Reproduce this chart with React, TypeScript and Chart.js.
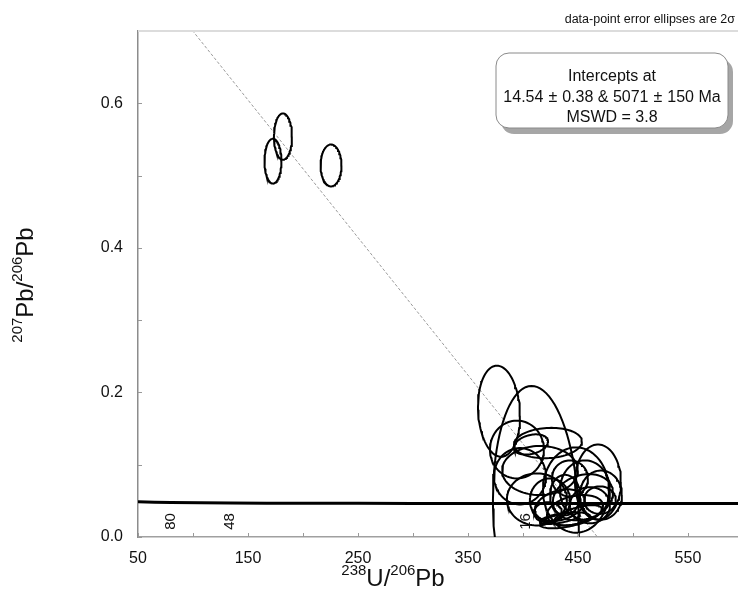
import React, { useEffect, useRef } from "react";
import { Chart, registerables } from "chart.js";

Chart.register(...registerables);

const FONT = "'Liberation Sans', Arial, sans-serif";

// Axis ranges and ticks
const X_MIN = 50;
const X_MAX = 595.5;
const Y_MIN = 0;
const Y_MAX = 0.7;
const xTickLabels = [50, 150, 250, 350, 450, 550];
const xMinorTicks = [100, 200, 300, 400, 500];
const yTickLabels = [0, 0.2, 0.4, 0.6];
const yMinorTicks = [0.1, 0.3, 0.5];

// Concordia curve (238U/206Pb vs 207Pb/206Pb)
const concordiaX = [50, 80, 134, 200, 300, 402, 500, 600];
const concordiaY = [0.0486, 0.0476, 0.047, 0.0467, 0.0465, 0.0464, 0.0463, 0.0462];
// Age markers (Ma) along concordia
const ageLabels = ["80", "48", "16"];
const ageX = [80, 133.8, 402.4];

// Discordia line endpoints
const discordiaX = [0, 467.7];
const discordiaY = [0.89, 0];

// Data-point error ellipses (centre, 2-sigma half-widths, correlation)
const ellX = [172.7, 181.8, 225.5, 378.2, 411.8, 394.5, 422.7, 407.3, 468.2, 448.2, 397.3, 412.7, 454.5, 470.9, 433.6, 447.3, 424.5, 460.9, 438.2, 450, 433.6, 422.7, 470, 442.7, 415.5, 456.4, 438.2];
const ellY = [0.52, 0.554, 0.514, 0.174, 0.034, 0.121, 0.13, 0.128, 0.076, 0.065, 0.084, 0.052, 0.055, 0.058, 0.044, 0.037, 0.051, 0.044, 0.058, 0.03, 0.026, 0.034, 0.051, 0.081, 0.092, 0.065, 0.023];
const ellSX = [7.7, 8.2, 9.5, 19.1, 39.1, 24.5, 30.9, 15.5, 20.9, 30, 23.6, 27.3, 27.3, 19.1, 22.7, 25.5, 18.2, 18.2, 13.6, 21.8, 18.2, 12.7, 14.5, 16.4, 34.5, 22.7, 22.7];
const ellSY = [0.031, 0.032, 0.029, 0.063, 0.175, 0.04, 0.021, 0.014, 0.052, 0.059, 0.039, 0.036, 0.032, 0.034, 0.022, 0.021, 0.03, 0.025, 0.028, 0.014, 0.008, 0.014, 0.019, 0.025, 0.034, 0.041, 0.011];
const ellRho = [0, 0, 0, -0.1, -0.1, 0, 0.1, 0.3, 0, 0, 0, 0, 0.2, 0, 0.3, 0.3, 0, 0, 0, 0.6, 0.6, 0, 0, 0, 0, 0, 0.5];

const boxLines = ["Intercepts at", "14.54±0.38 & 5071±150 Ma", "MSWD = 3.8"];
const noteText = "data-point error ellipses are 2σ";
const xTitleParts = [
  { t: "238", sup: true },
  { t: "U/", sup: false },
  { t: "206", sup: true },
  { t: "Pb", sup: false },
];
const yTitleParts = [
  { t: "207", sup: true },
  { t: "Pb/", sup: false },
  { t: "206", sup: true },
  { t: "Pb", sup: false },
];

function ellipseOutline(cx: number, cy: number, sx: number, sy: number, rho: number) {
  const pts: { x: number; y: number }[] = [];
  const n = 90;
  const s = Math.sqrt(1 - rho * rho);
  for (let k = 0; k <= n; k++) {
    const t = (2 * Math.PI * k) / n;
    pts.push({ x: cx + sx * Math.cos(t), y: cy + sy * (rho * Math.cos(t) + s * Math.sin(t)) });
  }
  return pts;
}

function drawSuperText(ctx: CanvasRenderingContext2D, parts: { t: string; sup: boolean }[], cx: number, baseline: number) {
  const mainF = `24px ${FONT}`;
  const supF = `15px ${FONT}`;
  let total = 0;
  const widths = parts.map((p) => {
    ctx.font = p.sup ? supF : mainF;
    const w = ctx.measureText(p.t).width;
    total += w;
    return w;
  });
  let x = cx - total / 2;
  ctx.textAlign = "left";
  ctx.textBaseline = "alphabetic";
  parts.forEach((p, i) => {
    ctx.font = p.sup ? supF : mainF;
    ctx.fillText(p.t, x, p.sup ? baseline - 11 : baseline);
    x += widths[i];
  });
}

function roundRectPath(ctx: CanvasRenderingContext2D, x: number, y: number, w: number, h: number, r: number) {
  ctx.beginPath();
  ctx.moveTo(x + r, y);
  ctx.lineTo(x + w - r, y);
  ctx.arcTo(x + w, y, x + w, y + r, r);
  ctx.lineTo(x + w, y + h - r);
  ctx.arcTo(x + w, y + h, x + w - r, y + h, r);
  ctx.lineTo(x + r, y + h);
  ctx.arcTo(x, y + h, x, y + h - r, r);
  ctx.lineTo(x, y + r);
  ctx.arcTo(x, y, x + r, y, r);
  ctx.closePath();
}

const decorPlugin = {
  id: "decor",
  afterDraw(chart: any) {
    const ctx: CanvasRenderingContext2D = chart.ctx;
    const xs = chart.scales.x;
    const ys = chart.scales.y;
    const area = chart.chartArea;
    ctx.save();

    // top border
    ctx.strokeStyle = "#dcdcdc";
    ctx.lineWidth = 2;
    ctx.beginPath();
    ctx.moveTo(area.left, area.top);
    ctx.lineTo(area.right, area.top);
    ctx.stroke();

    // inward ticks
    ctx.strokeStyle = "#999";
    ctx.lineWidth = 1;
    ctx.beginPath();
    [...yTickLabels, ...yMinorTicks].forEach((v) => {
      const py = Math.round(ys.getPixelForValue(v)) + 0.5;
      ctx.moveTo(area.left, py);
      ctx.lineTo(area.left + 4, py);
    });
    [...xTickLabels, ...xMinorTicks].forEach((v) => {
      const px = Math.round(xs.getPixelForValue(v)) + 0.5;
      ctx.moveTo(px, area.bottom);
      ctx.lineTo(px, area.bottom - 4);
    });
    ctx.stroke();

    // age labels
    ctx.fillStyle = "#111";
    ctx.font = `15px ${FONT}`;
    ctx.textAlign = "center";
    ctx.textBaseline = "middle";
    ageLabels.forEach((lab, i) => {
      const px = xs.getPixelForValue(ageX[i]);
      ctx.save();
      ctx.translate(px, 521.5);
      ctx.rotate(-Math.PI / 2);
      ctx.fillText(lab, 0, 0);
      ctx.restore();
    });

    // note
    ctx.font = `12.5px ${FONT}`;
    ctx.textAlign = "right";
    ctx.textBaseline = "alphabetic";
    ctx.fillStyle = "#111";
    ctx.fillText(noteText, 735, 23);

    // intercept box
    const bx = 496, by = 53, bw = 232, bh = 75;
    ctx.fillStyle = "#a6a6a6";
    roundRectPath(ctx, bx + 5, by + 6, bw, bh, 13);
    ctx.fill();
    roundRectPath(ctx, bx, by, bw, bh, 13);
    ctx.fillStyle = "#fff";
    ctx.fill();
    ctx.strokeStyle = "#8a8a8a";
    ctx.lineWidth = 1;
    ctx.stroke();

    ctx.fillStyle = "#111";
    ctx.font = `16px ${FONT}`;
    const cxb = bx + bw / 2;
    ctx.textAlign = "center";
    ctx.fillText(boxLines[0], cxb, 81);
    ctx.fillText(boxLines[2], cxb, 122);
    // middle line, with spaced ± signs
    const segs = boxLines[1].split("±");
    const gap = 5;
    const pmW = ctx.measureText("±").width;
    let tot = 0;
    segs.forEach((s) => (tot += ctx.measureText(s).width));
    tot += (segs.length - 1) * (pmW + 2 * gap);
    let x = cxb - tot / 2;
    ctx.textAlign = "left";
    segs.forEach((s, i) => {
      ctx.fillText(s, x, 101.5);
      x += ctx.measureText(s).width;
      if (i < segs.length - 1) {
        x += gap;
        ctx.fillText("±", x, 101.5);
        x += pmW + gap;
      }
    });

    // axis titles
    ctx.fillStyle = "#111";
    drawSuperText(ctx, xTitleParts, 393, 586);
    ctx.save();
    ctx.translate(33, 285);
    ctx.rotate(-Math.PI / 2);
    drawSuperText(ctx, yTitleParts, 0, 0);
    ctx.restore();

    ctx.restore();
  },
};

export default function App() {
  const ref = useRef<HTMLCanvasElement | null>(null);

  useEffect(() => {
    if (!ref.current) return;
    const datasets: any[] = [];
    ellX.forEach((cx, i) => {
      datasets.push({
        data: ellipseOutline(cx, ellY[i], ellSX[i], ellSY[i], ellRho[i]),
        showLine: true,
        borderColor: "#000",
        borderWidth: 2,
        pointRadius: 0,
        tension: 0,
        fill: false,
      });
    });
    datasets.push({
      data: concordiaX.map((x, i) => ({ x, y: concordiaY[i] })),
      showLine: true,
      borderColor: "#000",
      borderWidth: 3,
      pointRadius: 0,
      tension: 0.3,
      fill: false,
    });
    datasets.push({
      data: discordiaX.map((x, i) => ({ x, y: discordiaY[i] })),
      showLine: true,
      borderColor: "#9a9a9a",
      borderWidth: 1,
      borderDash: [3, 2],
      pointRadius: 0,
      fill: false,
    });

    const chart = new Chart(ref.current, {
      type: "scatter",
      data: { datasets },
      options: {
        animation: false,
        responsive: false,
        maintainAspectRatio: false,
        layout: { padding: { top: 31, left: 0, right: 0, bottom: 0 } },
        plugins: { legend: { display: false }, tooltip: { enabled: false } },
        scales: {
          x: {
            type: "linear",
            min: X_MIN,
            max: X_MAX,
            afterBuildTicks: (s: any) => {
              s.ticks = xTickLabels.map((v) => ({ value: v }));
            },
            afterFit: (s: any) => {
              s.height = 52;
            },
            grid: { display: false, drawTicks: false },
            border: { display: true, color: "#a0a0a0", width: 1.5 },
            ticks: {
              color: "#111",
              font: { family: FONT, size: 16 },
              padding: 12,
              maxRotation: 0,
              autoSkip: false,
            },
          },
          y: {
            type: "linear",
            min: Y_MIN,
            max: Y_MAX,
            afterBuildTicks: (s: any) => {
              s.ticks = yTickLabels.map((v) => ({ value: v }));
            },
            afterFit: (s: any) => {
              s.width = 138;
            },
            grid: { display: false, drawTicks: false },
            border: { display: true, color: "#8c8c8c", width: 1.5 },
            ticks: {
              color: "#111",
              font: { family: FONT, size: 16 },
              padding: 15,
              autoSkip: false,
              callback: (v: any) => Number(v).toFixed(1),
            },
          },
        },
      },
      plugins: [decorPlugin],
    });
    return () => chart.destroy();
  }, []);

  return (
    <div style={{ position: "absolute", left: 0, top: 0, width: 738, height: 589, background: "#fff" }}>
      <canvas ref={ref} width={738} height={589} style={{ display: "block" }} />
    </div>
  );
}
